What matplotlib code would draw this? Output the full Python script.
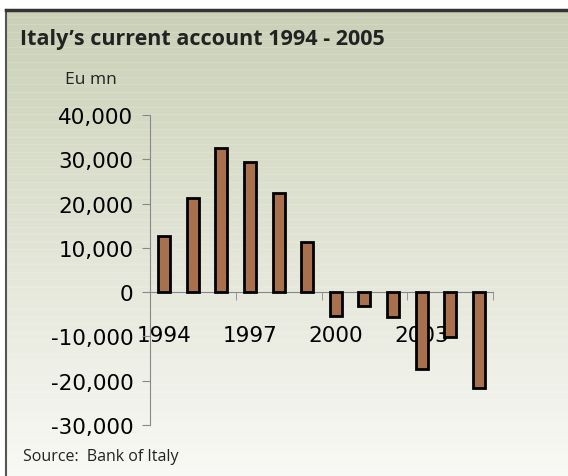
import numpy as np
import matplotlib
matplotlib.use("Agg")
from matplotlib import pyplot as plt
from matplotlib.lines import Line2D
from matplotlib.ticker import FuncFormatter

# 数据
years = list(range(1994, 2006))
values = [12700, 21200, 32600, 29300, 22500, 11300,
          -5300, -3200, -5700, -17400, -10200, -21600]
label_years = [1994, 1997, 2000, 2003]
y_ticks = [-30000, -20000, -10000, 0, 10000, 20000, 30000, 40000]

W, H = 568, 477
fig = plt.figure(figsize=(W / 100, H / 100), dpi=100)

# 背景渐变 + 横条纹
bg = fig.add_axes([6 / W, 0, 1 - 6 / W, (H - 11) / H])
top = np.array([0.792, 0.816, 0.714])
bot = np.array([0.975, 0.975, 0.960])
t = np.linspace(0, 1, 256)[:, None]
grad = top[None, :] * (1 - t) + bot[None, :] * t
bg.imshow(grad[:, None, :], aspect='auto', extent=[0, 1, 0, 1], origin='upper')
for yy in np.arange(0.985, 0, -7.5 / (H - 11)):
    bg.axhline(yy, color='white', lw=0.8, alpha=0.15)
bg.set_xlim(0, 1)
bg.set_ylim(0, 1)
bg.axis('off')

# 边框
fig.add_artist(Line2D([6 / W, 6 / W], [0, 1 - 11 / H], color='#555555', lw=1.5))
fig.add_artist(Line2D([6 / W, 1], [1 - 11 / H, 1 - 11 / H], color='#333333', lw=2.5))

# 主图
ax = fig.add_axes([150 / W, 51 / H, 343 / W, 310 / H])
ax.patch.set_alpha(0)
x = np.arange(len(years))
ax.bar(x, values, width=0.42, color='#a8704c', edgecolor='black', linewidth=2, zorder=3)
ax.set_xlim(-0.5, 11.5)
ax.set_ylim(-30000, 40000)

for s in ['top', 'right']:
    ax.spines[s].set_visible(False)
ax.spines['bottom'].set_position(('data', 0))
ax.spines['bottom'].set_color('#888888')
ax.spines['left'].set_color('#888888')

ax.set_yticks(y_ticks)
ax.yaxis.set_major_formatter(FuncFormatter(lambda v, p: f'{int(v):,}'))
ax.tick_params(axis='y', length=6, color='#888888', labelsize=15.5, pad=6)

ax.set_xticks([years.index(y) for y in label_years])
ax.set_xticklabels([str(y) for y in label_years])
ax.set_xticks(np.arange(-0.5, 12, 3), minor=True)
ax.tick_params(axis='x', which='major', length=0, labelsize=15.5, pad=24)
ax.tick_params(axis='x', which='minor', length=6, color='#888888', direction='out')

# 文字
fig.text(20 / W, 1 - 40 / H, "Italy\u2019s current account 1994 - 2005",
         fontsize=15.5, fontweight='bold', family='Open Sans', va='center', color='#222222')
fig.text(65 / W, 1 - 80 / H, "Eu mn", fontsize=12.5, family='Open Sans', ha='left', va='center', color='#222222')
fig.text(23 / W, 1 - 457 / H, "Source:  Bank of Italy", fontsize=11.5, family='Open Sans', va='center', color='#222222')

fig.savefig('out.png', dpi=100)
